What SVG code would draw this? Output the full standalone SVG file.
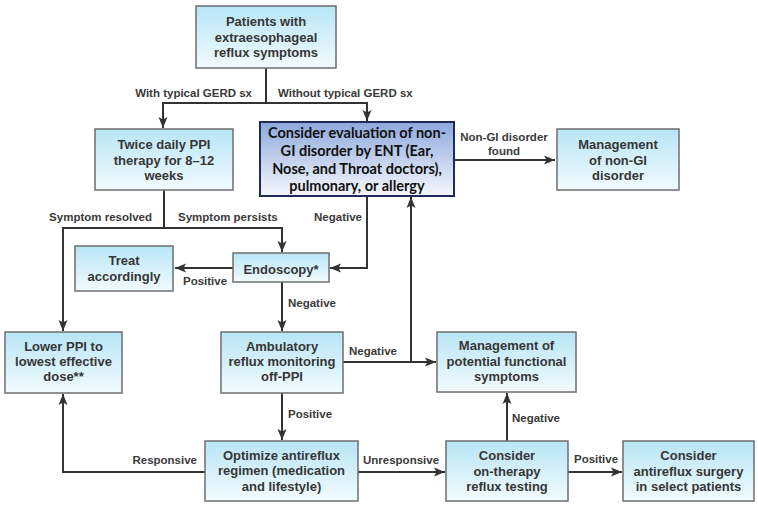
<svg xmlns="http://www.w3.org/2000/svg" width="758" height="505" viewBox="0 0 758 505">
<defs>
<linearGradient id="g" x1="0" y1="0" x2="0" y2="1">
<stop offset="0" stop-color="#b8e5f6"/>
<stop offset="1" stop-color="#f2fbfe"/>
</linearGradient>
<linearGradient id="g2" x1="0" y1="0" x2="0" y2="1">
<stop offset="0" stop-color="#8ea8dc"/>
<stop offset="1" stop-color="#f6f8fd"/>
</linearGradient>
<marker id="ar" markerUnits="userSpaceOnUse" markerWidth="12" markerHeight="12" viewBox="0 0 12 12" refX="11" refY="6" orient="auto">
<path d="M0,1.5 L11,6 L0,10.5 L2.5,6 Z" fill="#333"/>
</marker>
</defs>
<style>
.b{fill:url(#g);stroke:#6e6e6e;stroke-width:1.5}
.b2{fill:url(#g2);stroke:#1f2c58;stroke-width:2}
.t{font-family:"Liberation Sans",Arial,sans-serif;font-weight:bold;font-size:13px;fill:#363636;text-anchor:middle}
.t2{font-family:Lato,"Open Sans",sans-serif;font-weight:bold;font-size:14.5px;fill:#111;text-anchor:middle}
.l{font-family:"Liberation Sans",Arial,sans-serif;font-weight:bold;font-size:11.5px;fill:#3a3a3a}
.e{text-anchor:end}
.m{text-anchor:middle}
.c{fill:none;stroke:#333;stroke-width:2}
.a{marker-end:url(#ar)}
</style>
<rect width="758" height="505" fill="#fff"/>
<g id="connectors">
<path class="c" d="M266 68 V103"/>
<path class="c a" d="M266 103 H163 V128"/>
<path class="c a" d="M266 103 H367 V121"/>
<path class="c" d="M164 190 V228"/>
<path class="c a" d="M164 228 H63 V331"/>
<path class="c a" d="M164 228 H282 V252"/>
<path class="c a" d="M454 160 H555"/>
<path class="c a" d="M367 196 V268 H330"/>
<path class="c a" d="M233 268 H175"/>
<path class="c a" d="M282 282 V331"/>
<path class="c a" d="M343 362 H436"/>
<path class="c a" d="M411 362 V197"/>
<path class="c a" d="M282 393 V440"/>
<path class="c a" d="M205 472 H63 V394"/>
<path class="c a" d="M358 472 H445"/>
<path class="c a" d="M568 472 H622"/>
<path class="c a" d="M507 441 V393"/>
</g>
<g id="labels">
<text class="l e" x="252" y="97">With typical GERD sx</text>
<text class="l" x="278" y="97">Without typical GERD sx</text>
<text class="l m" x="504" y="141">Non-GI disorder</text>
<text class="l m" x="504" y="155">found</text>
<text class="l e" x="152" y="221">Symptom resolved</text>
<text class="l" x="178" y="221">Symptom persists</text>
<text class="l e" x="362" y="221">Negative</text>
<text class="l" x="183" y="285">Positive</text>
<text class="l" x="288" y="307">Negative</text>
<text class="l" x="349" y="355">Negative</text>
<text class="l" x="288" y="418">Positive</text>
<text class="l e" x="197" y="464">Responsive</text>
<text class="l" x="363" y="464">Unresponsive</text>
<text class="l" x="512" y="422">Negative</text>
<text class="l" x="574" y="463">Positive</text>
</g>
<g id="n1">
<rect class="b" x="196" y="6" width="140" height="62"/>
<text class="t" x="266" y="25.5">Patients with</text>
<text class="t" x="266" y="41.5">extraesophageal</text>
<text class="t" x="266" y="57">reflux symptoms</text>
</g>
<g id="n2">
<rect class="b" x="95" y="129" width="138" height="61"/>
<text class="t" x="164" y="149">Twice daily PPI</text>
<text class="t" x="164" y="164.5">therapy for 8–12</text>
<text class="t" x="164" y="180">weeks</text>
</g>
<g id="n3">
<rect class="b2" x="260" y="122" width="194" height="74"/>
<text class="t2" x="357" y="137.5">Consider evaluation of non-</text>
<text class="t2" x="357" y="155.5">GI disorder by ENT (Ear,</text>
<text class="t2" x="357" y="174">Nose, and Throat doctors),</text>
<text class="t2" x="357" y="191">pulmonary, or allergy</text>
</g>
<g id="n4">
<rect class="b" x="557" y="129" width="122" height="61"/>
<text class="t" x="618" y="148.5">Management</text>
<text class="t" x="618" y="164.5">of non-GI</text>
<text class="t" x="618" y="179.5">disorder</text>
</g>
<g id="n5">
<rect class="b" x="75" y="246" width="98" height="45"/>
<text class="t" x="124" y="265">Treat</text>
<text class="t" x="124" y="280.5">accordingly</text>
</g>
<g id="n6">
<rect class="b" x="233" y="253" width="96" height="29"/>
<text class="t" x="281" y="273.5">Endoscopy*</text>
</g>
<g id="n7">
<rect class="b" x="5" y="332" width="117" height="61"/>
<text class="t" x="63.5" y="350.5">Lower PPI to</text>
<text class="t" x="63.5" y="366">lowest effective</text>
<text class="t" x="63.5" y="381">dose**</text>
</g>
<g id="n8">
<rect class="b" x="221" y="332" width="122" height="61"/>
<text class="t" x="282" y="350.5">Ambulatory</text>
<text class="t" x="282" y="366">reflux monitoring</text>
<text class="t" x="282" y="381">off-PPI</text>
</g>
<g id="n9">
<rect class="b" x="437" y="332" width="139" height="60"/>
<text class="t" x="506.5" y="349.5">Management of</text>
<text class="t" x="506.5" y="365.5">potential functional</text>
<text class="t" x="506.5" y="381">symptoms</text>
</g>
<g id="n10">
<rect class="b" x="205" y="441" width="153" height="60"/>
<text class="t" x="281.5" y="459.5">Optimize antireflux</text>
<text class="t" x="281.5" y="475">regimen (medication</text>
<text class="t" x="281.5" y="490.5">and lifestyle)</text>
</g>
<g id="n11">
<rect class="b" x="446" y="441" width="122" height="60"/>
<text class="t" x="507" y="459.5">Consider</text>
<text class="t" x="507" y="475.5">on-therapy</text>
<text class="t" x="507" y="490.5">reflux testing</text>
</g>
<g id="n12">
<rect class="b" x="623" y="441" width="131" height="60"/>
<text class="t" x="688.5" y="459.5">Consider</text>
<text class="t" x="688.5" y="475.5">antireflux surgery</text>
<text class="t" x="688.5" y="490.5">in select patients</text>
</g>
</svg>
